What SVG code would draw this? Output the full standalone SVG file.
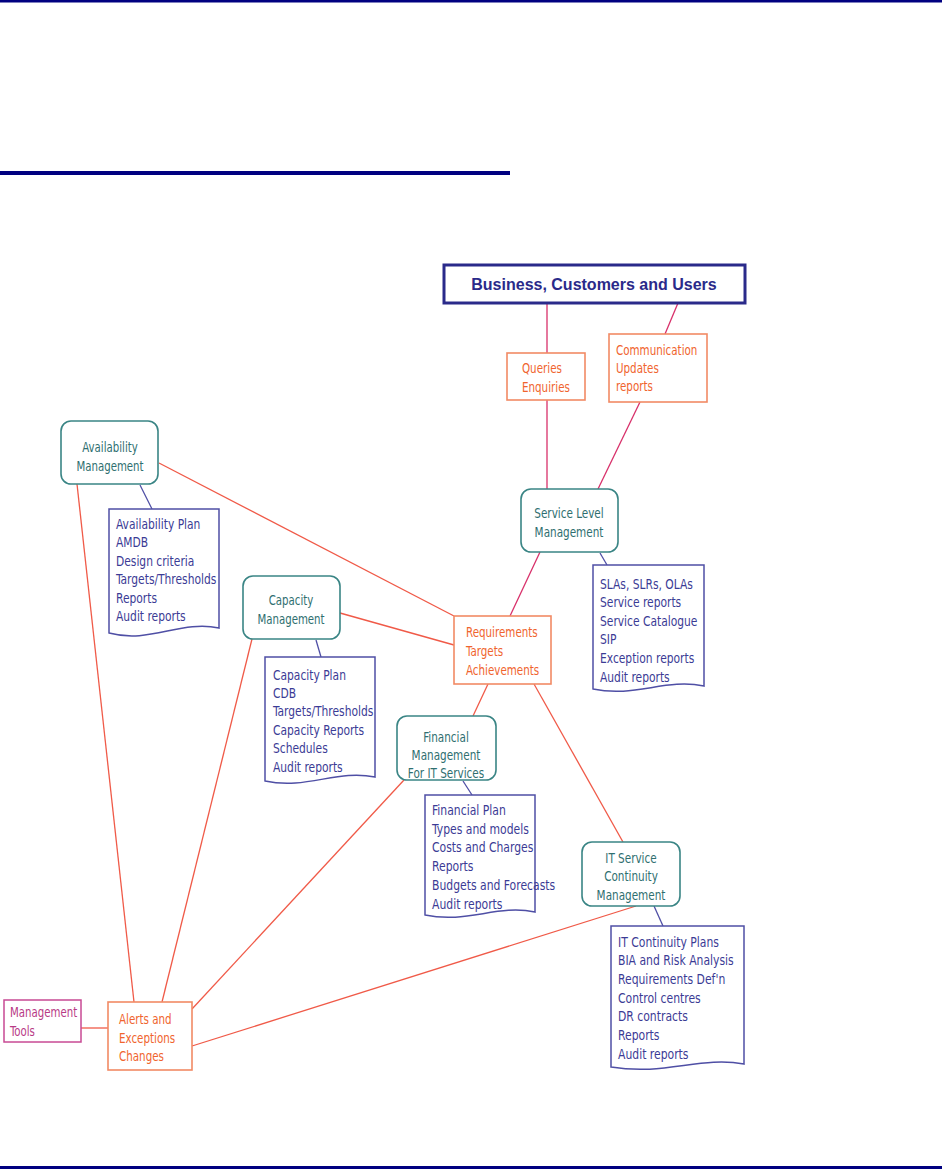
<svg xmlns="http://www.w3.org/2000/svg" width="942" height="1169" viewBox="0 0 942 1169">
<style>
text{font-family:"DejaVu Sans Condensed","DejaVu Sans",sans-serif;font-size:13px}
.rule{fill:#000080}
.proc rect{fill:#fff;stroke:#3a8585;stroke-width:1.6}
.proc text{fill:#2f6f70;text-anchor:middle;font-size:13.5px}
.box rect{fill:#fff;stroke:#f28a64;stroke-width:1.6}
.box text{fill:#f0642e;font-size:14px}
.doc path{fill:#fff;stroke:#4f4fa5;stroke-width:1.5}
.doc text{fill:#3b3b95;font-size:14px}
.red{stroke:#f05a48;stroke-width:1.3;fill:none}
.crim{stroke:#d8306a;stroke-width:1.3;fill:none}
.blu{stroke:#4f4fa5;stroke-width:1.3;fill:none}
</style>
<rect class="rule" x="0" y="0" width="942" height="2.5"/>
<rect class="rule" x="0" y="171" width="510" height="4"/>
<rect class="rule" x="0" y="1166" width="942" height="3"/>

<g id="connectors">
<line class="crim" x1="547" y1="303" x2="547" y2="353"/>
<line class="crim" x1="547" y1="400" x2="547" y2="489"/>
<line class="crim" x1="678" y1="303" x2="665" y2="334"/>
<line class="crim" x1="640" y1="402" x2="598" y2="489"/>
<line class="crim" x1="540" y1="552" x2="510" y2="616"/>
<line class="red" x1="159" y1="463" x2="454" y2="616"/>
<line class="red" x1="340" y1="613" x2="454" y2="645"/>
<line class="red" x1="488" y1="684" x2="473" y2="716"/>
<line class="red" x1="534" y1="684" x2="623" y2="842"/>
<line class="red" x1="77" y1="484" x2="134" y2="1002"/>
<line class="red" x1="252" y1="639" x2="162" y2="1002"/>
<line class="red" x1="404" y1="780" x2="192" y2="1009"/>
<line class="red" x1="636" y1="906" x2="192" y2="1046"/>
<line class="red" x1="81" y1="1028" x2="108" y2="1028"/>
<line class="blu" x1="140" y1="485" x2="152" y2="509"/>
<line class="blu" x1="600" y1="553" x2="607" y2="565"/>
<line class="blu" x1="316" y1="640" x2="321" y2="657"/>
<line class="blu" x1="463" y1="781" x2="472" y2="795"/>
<line class="blu" x1="654" y1="906" x2="663" y2="926"/>
</g>

<g id="business">
<rect x="444" y="265" width="301" height="38" fill="#fff" stroke="#2a2a8a" stroke-width="3"/>
<text x="594" y="290" text-anchor="middle" fill="#2a2a8a" style="font-family:'Liberation Sans',Arial,sans-serif;font-size:16px;font-weight:bold">Business, Customers and Users</text>
</g>

<g id="queries" class="box">
<rect x="507" y="353" width="78" height="47"/>
<g transform="translate(522,0) scale(0.82,1)">
<text x="0" y="373">Queries</text>
<text x="0" y="392">Enquiries</text>
</g>
</g>
<g id="communication" class="box">
<rect x="609" y="334" width="98" height="68"/>
<g transform="translate(616,0) scale(0.82,1)">
<text x="0" y="355">Communication</text>
<text x="0" y="373">Updates</text>
<text x="0" y="391">reports</text>
</g>
</g>

<g id="availability" class="proc">
<rect x="61" y="421" width="97" height="63" rx="10"/>
<g transform="translate(110,0) scale(0.84,1)">
<text x="0" y="452">Availability</text>
<text x="0" y="471">Management</text>
</g>
</g>
<g id="availability-doc" class="doc">
<path d="M109,509 H219 V628 C180,620 150,644 109,633 Z"/>
<g transform="translate(116,0) scale(0.85,1)">
<text x="0" y="529">Availability Plan</text>
<text x="0" y="547">AMDB</text>
<text x="0" y="566">Design criteria</text>
<text x="0" y="584">Targets/Thresholds</text>
<text x="0" y="603">Reports</text>
<text x="0" y="621">Audit reports</text>
</g>
</g>

<g id="slm" class="proc">
<rect x="521" y="489" width="97" height="63" rx="10"/>
<g transform="translate(569,0) scale(0.86,1)">
<text x="0" y="518">Service Level</text>
<text x="0" y="537">Management</text>
</g>
</g>
<g id="slm-doc" class="doc">
<path d="M593,565 H704 V686 C665,678 635,698 593,689 Z"/>
<g transform="translate(600,0) scale(0.85,1)">
<text x="0" y="589">SLAs, SLRs, OLAs</text>
<text x="0" y="607">Service reports</text>
<text x="0" y="626">Service Catalogue</text>
<text x="0" y="644">SIP</text>
<text x="0" y="663">Exception reports</text>
<text x="0" y="682">Audit reports</text>
</g>
</g>

<g id="capacity" class="proc">
<rect x="243" y="576" width="97" height="63" rx="10"/>
<g transform="translate(291,0) scale(0.84,1)">
<text x="0" y="605">Capacity</text>
<text x="0" y="624">Management</text>
</g>
</g>
<g id="capacity-doc" class="doc">
<path d="M265,657 H375 V777 C337,769 307,790 265,781 Z"/>
<g transform="translate(273,0) scale(0.85,1)">
<text x="0" y="680">Capacity Plan</text>
<text x="0" y="698">CDB</text>
<text x="0" y="716">Targets/Thresholds</text>
<text x="0" y="735">Capacity Reports</text>
<text x="0" y="753">Schedules</text>
<text x="0" y="772">Audit reports</text>
</g>
</g>

<g id="requirements" class="box">
<rect x="454" y="616" width="97" height="68"/>
<g transform="translate(466,0) scale(0.82,1)">
<text x="0" y="637">Requirements</text>
<text x="0" y="656">Targets</text>
<text x="0" y="675">Achievements</text>
</g>
</g>

<g id="financial" class="proc">
<rect x="397" y="716" width="99" height="64" rx="10"/>
<g transform="translate(446,0) scale(0.86,1)">
<text x="0" y="742">Financial</text>
<text x="0" y="760">Management</text>
<text x="0" y="778">For IT Services</text>
</g>
</g>
<g id="financial-doc" class="doc">
<path d="M425,795 H535 V912 C497,904 467,924 425,915 Z"/>
<g transform="translate(432,0) scale(0.86,1)">
<text x="0" y="815">Financial Plan</text>
<text x="0" y="834">Types and models</text>
<text x="0" y="852">Costs and Charges</text>
<text x="0" y="871">Reports</text>
<text x="0" y="890">Budgets and Forecasts</text>
<text x="0" y="909">Audit reports</text>
</g>
</g>

<g id="itscm" class="proc">
<rect x="582" y="842" width="98" height="64" rx="10"/>
<g transform="translate(631,0) scale(0.86,1)">
<text x="0" y="863">IT Service</text>
<text x="0" y="881">Continuity</text>
<text x="0" y="900">Management</text>
</g>
</g>
<g id="itscm-doc" class="doc">
<path d="M611,926 H744 V1064 C700,1056 665,1076 611,1067 Z"/>
<g transform="translate(618,0) scale(0.86,1)">
<text x="0" y="947">IT Continuity Plans</text>
<text x="0" y="965">BIA and Risk Analysis</text>
<text x="0" y="984">Requirements Def'n</text>
<text x="0" y="1003">Control centres</text>
<text x="0" y="1021">DR contracts</text>
<text x="0" y="1040">Reports</text>
<text x="0" y="1059">Audit reports</text>
</g>
</g>

<g id="tools">
<rect x="4" y="1000" width="77" height="42" fill="#fff" stroke="#c84a94" stroke-width="1.5"/>
<g transform="translate(10,0) scale(0.84,1)">
<text x="0" y="1017" fill="#b83a86" style="font-size:13.5px">Management</text>
<text x="0" y="1036" fill="#b83a86" style="font-size:13.5px">Tools</text>
</g>
</g>

<g id="alerts" class="box">
<rect x="108" y="1002" width="84" height="68"/>
<g transform="translate(119,0) scale(0.82,1)">
<text x="0" y="1024">Alerts and</text>
<text x="0" y="1043">Exceptions</text>
<text x="0" y="1061">Changes</text>
</g>
</g>
</svg>
